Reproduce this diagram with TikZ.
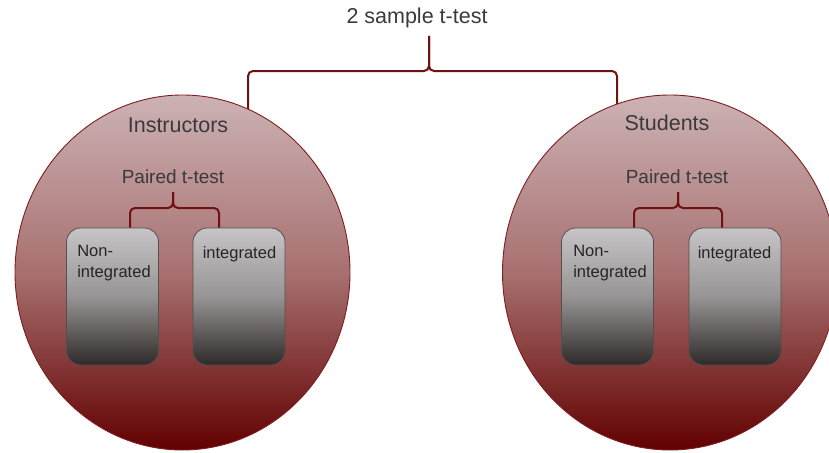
\documentclass[tikz,border=0pt]{standalone}
\usepackage{fontspec}
\setmainfont{Liberation Sans}
\usetikzlibrary{shapes.geometric}
\definecolor{brc}{RGB}{110,18,18}
\definecolor{cedge}{RGB}{125,30,32}
\definecolor{ctop}{RGB}{204,178,180}
\definecolor{cmid}{RGB}{168,112,112}
\definecolor{cbot}{RGB}{98,0,0}
\definecolor{btop}{RGB}{198,196,198}
\definecolor{bmid}{RGB}{150,148,148}
\definecolor{bbot}{RGB}{48,42,42}
\definecolor{bedge}{RGB}{85,80,80}
\definecolor{txt}{RGB}{58,58,58}
\definecolor{btxt}{RGB}{38,38,38}
\tikzset{
  grp/.style={ellipse, draw=cedge, line width=0.9pt, minimum width=335pt, minimum height=355pt, inner sep=0pt,
    top color=ctop, bottom color=cbot, middle color=cmid},
  cond/.style={rectangle, rounded corners=14pt, draw=bedge, line width=0.8pt, minimum width=92pt, minimum height=137pt, inner sep=0pt,
    top color=btop, bottom color=bbot, middle color=bmid},
  brace/.style={draw=brc, line width=2pt, rounded corners=5pt},
  bigtxt/.style={text=txt, font=\fontsize{21.5}{24}\selectfont, inner sep=0pt},
  midtxt/.style={text=txt, font=\fontsize{19}{22}\selectfont, inner sep=0pt},
  boxtxt/.style={text=btxt, font=\fontsize{16.5}{21}\selectfont, inner sep=0pt, anchor=north west, align=left},
}
\begin{document}
\begin{tikzpicture}[x=1pt,y=-1pt]
\useasboundingbox (0,0) rectangle (829,452);
% title and top brace
\node[bigtxt] (title) at (417,18) {2 sample t-test};
\coordinate (tstem) at (429,36);
\coordinate (tmid) at (429,71);
\coordinate (tl) at (248,112);
\coordinate (tr) at (617,108);
\draw[brace] (tl) |- (tmid) -- (tstem);
\draw[brace] (tr) |- (tmid) -- (tstem);
% groups
\node[grp] (inst) at (182.5,272.5) {};
\node[grp] (stud) at (670,272.5) {};
\node[bigtxt] (instl) at (178,125) {Instructors};
\node[bigtxt] (studl) at (667,123) {Students};
\node[midtxt] (pl) at (173,177) {Paired t-test};
\node[midtxt] (pr) at (677,177) {Paired t-test};
% boxes
\node[cond] (ln) at (112.5,296.5) {};
\node[cond] (li) at (239,296.5) {};
\node[cond] (rn) at (607.5,296.5) {};
\node[cond] (ri) at (735,296.5) {};
\node[boxtxt] (lnt) at ([shift={(11,17)}]ln.north west) {Non-\\integrated};
\node[boxtxt] (lit) at ([shift={(10,19)}]li.north west) {integrated};
\node[boxtxt] (rnt) at ([shift={(12,17)}]rn.north west) {Non-\\integrated};
\node[boxtxt] (rit) at ([shift={(9,19)}]ri.north west) {integrated};
% inner braces
\coordinate (lstem) at (173,192);
\coordinate (lmid) at (173,208);
\coordinate (rstem) at (678,192);
\coordinate (rmid) at (678,208);
\draw[brace] (ln.north -| 130,0) |- (lmid) -- (lstem);
\draw[brace] (li.north -| 219,0) |- (lmid) -- (lstem);
\draw[brace] (rn.north -| 634,0) |- (rmid) -- (rstem);
\draw[brace] (ri.north -| 722,0) |- (rmid) -- (rstem);
\end{tikzpicture}
\end{document}
